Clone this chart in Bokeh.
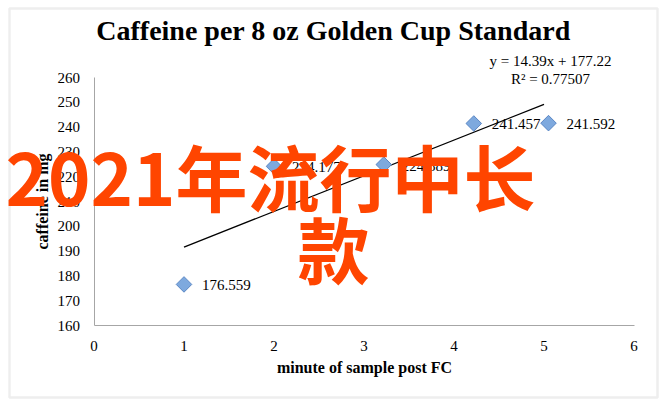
from bokeh.plotting import figure
from bokeh.models import Range1d, FixedTicker, Label, BoxAnnotation, ColumnDataSource
from bokeh.core.properties import value
from bokeh.embed import file_html
from bokeh.resources import INLINE
import math

# ---- data ----
minutes = [1.0, 2.0, 3.22, 4.22, 5.05]
caffeine = [176.559, 224.177, 224.889, 241.457, 241.592]
point_labels = ["176.559", "224.177", "224.889", "241.457", "241.592"]
trend_slope = 14.39
trend_intercept = 177.22
trend_x = [1.0, 5.0]
x_ticks = [0, 1, 2, 3, 4, 5, 6]
y_ticks = [160, 170, 180, 190, 200, 210, 220, 230, 240, 250, 260]

title_text = "Caffeine per 8 oz Golden Cup Standard"
eq_text = "y = 14.39x + 177.22"
r2_text = "R\u00b2 = 0.77507"
x_title = "minute of sample post FC"
y_title = "caffeine in mg"
overlay_line1 = "2021年流行中长"
overlay_line2 = "款"

SERIF = "Liberation Serif"
W, H = 665, 407
PX_L, PX_R = 93.5, 633.5
PY_B, PY_T = 325.0, 77.0
X0, X1 = 0.0, 6.0
Y0, Y1 = 160.0, 260.0
xs = (PX_R - PX_L) / (X1 - X0)
ys = (PY_B - PY_T) / (Y1 - Y0)
x_start = X0 - PX_L / xs
x_end = x_start + W / xs
y_start = Y0 - (H - PY_B) / ys
y_end = y_start + H / ys

p = figure(width=W, height=H, output_backend="svg", toolbar_location=None,
           x_range=Range1d(x_start, x_end), y_range=Range1d(y_start, y_end),
           min_border=0, min_border_left=0, min_border_right=0,
           min_border_top=0, min_border_bottom=0)
p.background_fill_color = "white"
p.border_fill_color = "white"
p.outline_line_color = None
p.xgrid.visible = False
p.ygrid.visible = False

xa = p.xaxis[0]
ya = p.yaxis[0]
for ax in (xa, ya):
    ax.axis_line_color = "#A6A6A6"
    ax.axis_line_width = 1
    ax.major_tick_line_color = None
    ax.minor_tick_line_color = None
    ax.major_label_text_color = "black"
    ax.major_label_text_font = SERIF
    ax.major_label_text_font_size = "15px"
    ax.axis_label_text_font = SERIF
    ax.axis_label_text_font_style = "bold"
    ax.axis_label_text_font_size = "16px"
    ax.axis_label_text_color = "black"

xa.fixed_location = Y0
ya.fixed_location = X0
xa.bounds = (X0, X1)
ya.bounds = (Y0, Y1)
xa.ticker = FixedTicker(ticks=x_ticks)
ya.ticker = FixedTicker(ticks=y_ticks)
xa.axis_label = x_title
ya.axis_label = y_title
xa.major_label_standoff = 9
xa.axis_label_standoff = 5
ya.major_label_standoff = 8
ya.axis_label_standoff = 4

# outer chart border
p.add_layout(BoxAnnotation(left=9, right=657, top=8, bottom=397,
                           left_units="canvas", right_units="canvas",
                           top_units="canvas", bottom_units="canvas",
                           fill_color=None, line_color="#C8C8C8", line_width=2.5))

# trendline from the equation
trend_y = [trend_slope * x + trend_intercept for x in trend_x]
p.line(trend_x, trend_y, line_color="black", line_width=1.3)

src = ColumnDataSource(dict(x=minutes, y=caffeine, lab=point_labels))
p.scatter("x", "y", source=src, marker="square", size=11, angle=math.pi / 4,
          fill_color="#7EA9DE", line_color="#5B87C5", line_width=1)
p.text("x", "y", text="lab", source=src, x_offset=18, y_offset=1,
       text_font=value(SERIF), text_font_size="15px", text_color="black",
       text_baseline="middle", text_align="left")

# title
p.add_layout(Label(x=333, y=30, x_units="canvas", y_units="canvas", text=title_text,
                   text_font=SERIF, text_font_style="bold", text_font_size="28px",
                   text_align="center", text_baseline="middle", text_color="black"))
# equation
p.add_layout(Label(x=550, y=60, x_units="canvas", y_units="canvas", text=eq_text,
                   text_font=SERIF, text_font_size="15px",
                   text_align="center", text_baseline="middle", text_color="black"))
p.add_layout(Label(x=550, y=78, x_units="canvas", y_units="canvas", text=r2_text,
                   text_font=SERIF, text_font_size="15px",
                   text_align="center", text_baseline="middle", text_color="black"))

# overlay watermark text
p.add_layout(Label(x=5, y=174, x_units="canvas", y_units="canvas", text=overlay_line1,
                   text_font="Noto Sans CJK SC", text_font_style="bold", text_font_size="72px",
                   text_align="left", text_baseline="middle", text_color="#FF4500"))
p.add_layout(Label(x=333, y=246, x_units="canvas", y_units="canvas", text=overlay_line2,
                   text_font="Noto Sans CJK SC", text_font_style="bold", text_font_size="72px",
                   text_align="center", text_baseline="middle", text_color="#FF4500"))

open("out.html", "w").write(file_html(p, INLINE))
